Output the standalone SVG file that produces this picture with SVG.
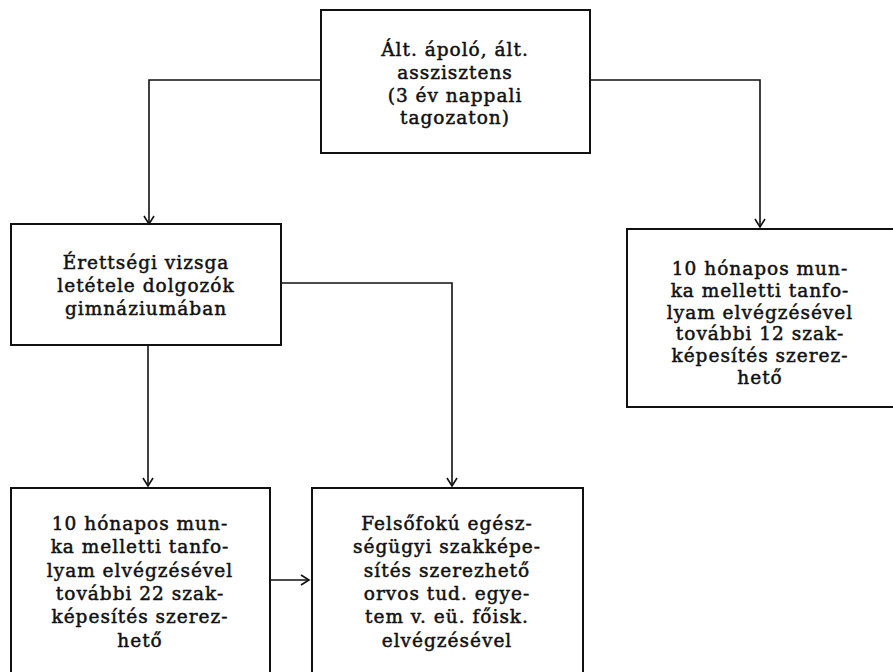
<svg xmlns="http://www.w3.org/2000/svg" width="893" height="672" viewBox="0 0 893 672">
<style>
.box{fill:none;stroke:#111;stroke-width:2}
.ln{fill:none;stroke:#111;stroke-width:1.6}
text{font-family:"DejaVu Serif","Liberation Serif",serif;font-size:18.5px;letter-spacing:1px;fill:#111;stroke:#111;stroke-width:0.5;text-anchor:middle}
</style>
<defs>
<marker id="ah" markerWidth="12" markerHeight="12" refX="10" refY="6" orient="auto" markerUnits="userSpaceOnUse">
<polyline points="2,1 10,6 2,11" fill="none" stroke="#111" stroke-width="1.6"/>
</marker>
</defs>
<rect width="893" height="672" fill="#fff"/>
<g id="connectors">
<polyline class="ln" points="321,80 149,80 149,224" marker-end="url(#ah)"/>
<polyline class="ln" points="590,80 760,80 760,227" marker-end="url(#ah)"/>
<polyline class="ln" points="148,345 148,486" marker-end="url(#ah)"/>
<polyline class="ln" points="281,283 452,283 452,486" marker-end="url(#ah)"/>
<polyline class="ln" points="271,580 309,580" marker-end="url(#ah)"/>
</g>
<g id="n1">
<rect class="box" x="321" y="10" width="269" height="143"/>
<text x="455" y="56">Ált. ápoló, ált.</text>
<text x="455" y="79">asszisztens</text>
<text x="455" y="102">(3 év nappali</text>
<text x="455" y="124">tagozaton)</text>
</g>
<g id="n2">
<rect class="box" x="11" y="224" width="270" height="121"/>
<text x="146" y="269">Érettségi vizsga</text>
<text x="146" y="292">letétele dolgozók</text>
<text x="146" y="315">gimnáziumában</text>
</g>
<g id="n3">
<polyline class="box" points="893,229 627,229 627,407 893,407"/>
<text x="760" y="275">10 hónapos mun-</text>
<text x="760" y="297">ka melletti tanfo-</text>
<text x="760" y="319">lyam elvégzésével</text>
<text x="760" y="340">további 12 szak-</text>
<text x="760" y="362">képesítés szerez-</text>
<text x="760" y="384">hető</text>
</g>
<g id="n4">
<polyline class="box" points="11,672 11,488 270,488 270,672"/>
<text x="140" y="530">10 hónapos mun-</text>
<text x="140" y="553">ka melletti tanfo-</text>
<text x="140" y="577">lyam elvégzésével</text>
<text x="140" y="600">további 22 szak-</text>
<text x="140" y="623">képesítés szerez-</text>
<text x="140" y="647">hető</text>
</g>
<g id="n5">
<polyline class="box" points="312,672 312,488 583,488 583,672"/>
<text x="447" y="530">Felsőfokú egész-</text>
<text x="447" y="553">ségügyi szakképe-</text>
<text x="447" y="577">sítés szerezhető</text>
<text x="447" y="600">orvos tud. egye-</text>
<text x="447" y="623">tem v. eü. főisk.</text>
<text x="447" y="647">elvégzésével</text>
</g>
</svg>
